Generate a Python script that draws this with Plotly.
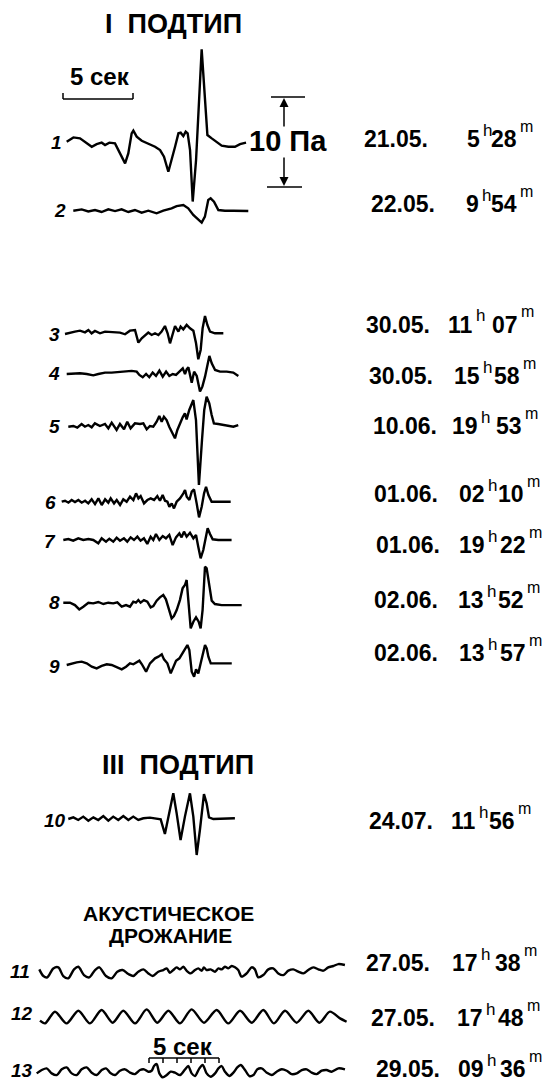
"""Microbarograph records: I and III subtypes and acoustic tremor."""

import plotly.graph_objects as go

# scale of the original sheet: 5 s = 70 px, 10 Pa = 88 px
PX_PER_SEC = 14.0
PX_PER_PA = 8.8

# ---- records: time (s) and pressure (Pa) ----
t1 = [0, 0.48, 0.95, 1.43, 1.79, 2.14, 2.5, 2.74, 3.05, 3.45, 3.76, 4.17, 4.4, 4.64, 4.76, 5.0, 5.36,
      5.83, 6.31, 6.67, 6.95, 7.26, 7.5, 7.74, 7.98, 8.14, 8.33, 8.5, 8.64, 8.81, 9.0, 9.24, 9.64,
      9.83, 10.05, 10.36, 10.71, 11.07, 11.55, 12.02, 12.38, 12.81]
p1 = [0, 0.49, 0.38, -0.19, -0.57, -0.27, -0.11, -0.38, -0.11, -0.19, -1.14, -2.46, -1.33, 0.95,
      1.25, 0.57, 0.11, -0.19, -0.57, -0.95, -1.7, -3.41, -2.08, -0.57, 0.95, 1.02, 0.64, 1.14, 0.95,
      -0.95, -6.8, -2.08, 10.5, 6.25, 0.76, 0.38, 0, -0.45, -0.57, -0.57, -0.27, -0.11]

t2 = [0, 0.6, 1.07, 1.55, 2.02, 2.5, 2.98, 3.45, 3.93, 4.4, 4.88, 5.36, 5.95, 6.43, 7.02, 7.38, 7.86,
      8.21, 8.57, 8.93, 9.17, 9.4, 9.64, 9.81, 10.05, 10.36, 10.83, 11.43, 12.02, 12.5]
p2 = [0, 0.15, -0.08, 0.08, -0.15, 0.15, -0.04, 0.15, -0.15, 0.08, -0.23, 0, -0.3, 0, 0.27, 0.53,
      0.64, 0.27, -0.49, -1.06, -1.36, -0.68, 1.21, 1.4, 1.02, 0.08, 0, 0, -0.04, -0.04]

t3 = [0, 0.36, 0.71, 1.07, 1.43, 1.67, 1.9, 2.14, 2.5, 2.86, 3.21, 3.57, 3.93, 4.29, 4.64, 5.0, 5.24,
      5.48, 5.71, 5.95, 6.19, 6.43, 6.67, 6.9, 7.14, 7.33, 7.5, 7.69, 7.86, 8.1, 8.26, 8.45, 8.69,
      8.93, 9.17, 9.36, 9.52, 9.69, 9.83, 10.0, 10.17, 10.36, 10.71, 11.31]
p3 = [-0.08, 0.08, 0.19, 0.3, 0.11, 0.38, 0, 0.27, 0, 0.19, 0.15, 0.19, 0.08, -0.11, 0.3, 0.38,
      -1.06, -0.57, -0.3, 0.08, -0.19, 0, -0.19, 0.19, 0.83, 0, -1.14, 0, 0.83, 0.19, 0.76, 0.45,
      0.95, 0.57, 0.3, -1.14, -2.95, -1.89, 0.57, 1.97, 0.95, 0.19, 0, 0]

t4 = [0, 0.48, 0.95, 1.43, 1.9, 2.26, 2.74, 3.21, 3.69, 4.17, 4.64, 5.0, 5.19, 5.43, 5.67, 5.9, 6.14,
      6.38, 6.62, 6.86, 7.1, 7.33, 7.57, 7.81, 8.05, 8.29, 8.45, 8.57, 8.69, 8.93, 9.1, 9.29, 9.52,
      9.69, 9.88, 10.05, 10.19, 10.36, 10.6, 10.95, 11.43, 11.9, 12.26]
p4 = [-0.08, 0, 0, -0.08, -0.23, -0.08, 0.08, 0.08, 0.15, 0.19, 0.27, 0.19, -0.19, -0.45, -0.08,
      -0.45, 0.08, -0.3, 0.3, -0.38, 0.19, -0.3, -0.08, -0.19, 0.19, 0.57, -0.08, 0.45, 0.68, -1.06,
      0.19, -0.3, -2.08, -1.52, -0.38, 0.95, 1.97, 1.14, 0.38, 0.19, 0.19, 0.08, -0.3]

t5 = [0, 0.36, 0.64, 0.95, 1.19, 1.43, 1.67, 1.9, 2.26, 2.62, 2.86, 3.1, 3.45, 3.69, 3.98, 4.21,
      4.45, 4.76, 5.12, 5.36, 5.6, 5.83, 6.07, 6.31, 6.5, 6.67, 6.83, 7.02, 7.21, 7.45, 7.62, 7.79,
      7.98, 8.17, 8.33, 8.45, 8.64, 8.93, 9.12, 9.33, 9.55, 9.71, 9.88, 10.07, 10.24, 10.4, 10.71,
      11.07, 11.43, 11.79, 12.14]
p5 = [-0.08, 0, -0.19, 0.23, -0.08, 0.11, -0.15, 0.3, 0, 0.23, -0.27, 0.38, -0.45, 0.23, -0.38,
      0.49, -0.27, 0.3, 0.23, 0.3, -0.38, 0, -0.08, 0.49, 1.14, 0.49, 1.06, 0.68, -0.08, -0.83, -1.4,
      -0.45, 0.3, 0.98, 1.44, 0.76, 1.82, 2.95, 0.68, -6.7, -1.59, 1.82, 3.33, 2.58, 1.25, 0.3,
      0.23, 0.11, 0, -0.08, 0.11]

t6 = [0, 0.24, 0.48, 0.71, 0.95, 1.19, 1.43, 1.67, 1.9, 2.14, 2.38, 2.62, 2.86, 3.1, 3.33, 3.5,
      3.74, 3.93, 4.17, 4.4, 4.64, 4.88, 5.12, 5.31, 5.48, 5.64, 5.88, 6.12, 6.36, 6.6, 6.83, 7.02,
      7.21, 7.38, 7.55, 7.69, 7.86, 8.02, 8.21, 8.45, 8.69, 8.81, 8.93, 9.12, 9.29, 9.45, 9.64, 9.81,
      10.0, 10.17, 10.31, 10.48, 10.71, 11.19, 11.67, 12.07]
p6 = [0, 0.11, -0.11, 0.19, -0.04, 0.19, -0.11, 0.11, -0.19, 0.27, -0.27, 0.38, -0.38, 0.27, -0.11,
      0.38, -0.19, 0.19, -0.38, 0.27, 0, 0.57, 0.19, 0.95, 0.38, 0.64, -0.19, 0.19, 0.38, 0.19, 0.64,
      0.11, 0.76, 0.11, 0, -0.57, -0.19, -0.76, 0, 0.38, 0.95, 1.33, 0.57, 0.19, 1.14, 1.4, -0.19,
      -1.78, -0.57, 0.95, 1.7, 0.76, 0, 0, 0, 0]

t7 = [0, 0.36, 0.71, 1.07, 1.43, 1.79, 2.14, 2.5, 2.74, 3.05, 3.29, 3.57, 3.81, 4.05, 4.33, 4.57,
      4.81, 5.05, 5.29, 5.52, 5.76, 6.0, 6.24, 6.43, 6.62, 6.86, 7.1, 7.33, 7.57, 7.81, 8.05, 8.29,
      8.45, 8.62, 8.81, 9.05, 9.29, 9.48, 9.64, 9.81, 10.0, 10.14, 10.31, 10.48, 10.67, 11.07,
      11.55, 12.02]
p7 = [0, 0.11, -0.08, 0.19, 0, 0.11, 0, -0.38, 0.19, -0.19, 0.15, -0.19, 0.27, -0.08, 0.19, -0.19,
      0.3, 0, 0.38, -0.08, 0.19, -0.45, 0.38, 0, 0.68, 0, 0.45, 0.19, 0.57, -0.57, 0.3, 0.76, 0.3,
      0.95, 0.38, 0.83, 0.19, 0.57, -0.76, -2.08, -1.14, 0, 1.33, 0.68, 0.08, 0, 0, 0]

t8 = [0, 0.48, 0.83, 1.14, 1.43, 1.79, 2.14, 2.5, 2.86, 3.21, 3.57, 3.86, 4.17, 4.48, 4.76, 5.0,
      5.19, 5.36, 5.52, 5.76, 6.0, 6.24, 6.43, 6.67, 6.9, 7.14, 7.33, 7.52, 7.74, 7.9, 8.1, 8.33,
      8.52, 8.69, 8.81, 8.93, 9.1, 9.29, 9.48, 9.67, 9.81, 9.95, 10.12, 10.24, 10.43, 10.6, 10.83,
      11.31, 11.9, 12.74]
p8 = [0, 0, -0.27, -0.76, -0.45, 0, -0.08, 0.08, -0.15, 0, -0.08, 0.04, -0.45, -0.27, -0.45, 0.11,
      0, 0.3, 0, 0.3, 0.11, -0.53, -0.38, 0.23, 0.61, 0.87, 0.38, -0.64, -1.78, -1.52, -0.83, 0.3,
      1.63, 2.01, 2.58, 0.3, -2.92, -2.16, -1.67, -2.16, -2.92, -0.83, 4.09, 3.9, 1.82, 0.23, -0.15,
      -0.27, -0.27, -0.27]

t9 = [0, 0.36, 0.71, 1.07, 1.43, 1.79, 2.14, 2.5, 2.86, 3.21, 3.57, 3.93, 4.24, 4.52, 4.76, 5.0,
      5.19, 5.36, 5.67, 5.95, 6.31, 6.55, 6.79, 6.95, 7.19, 7.43, 7.57, 7.81, 8.05, 8.29, 8.48, 8.62,
      8.76, 8.93, 9.1, 9.24, 9.4, 9.57, 9.76, 9.88, 10.0, 10.12, 10.29, 10.71, 11.31, 11.79]
p9 = [0, 0.19, 0.3, 0.38, 0.19, -0.19, -0.38, -0.11, 0.08, 0, -0.27, -0.49, -0.19, 0.19, 0.08, 0.27,
      0.49, 0.11, -0.76, 0.19, 0.76, 0.95, 1.21, 0.64, 0.19, -0.95, -0.38, 0.49, 0.76, 1.33, 1.89,
      2.27, 1.7, -0.76, -1.33, -0.49, -0.95, 0.19, 1.52, 2.27, 1.89, 0.95, 0.19, 0.19, 0.11, 0.19]

t10 = [0, 0.36, 0.71, 1.07, 1.43, 1.79, 2.14, 2.5, 2.86, 3.21, 3.57, 3.93, 4.29, 4.64, 5.0, 5.36,
       5.83, 6.31, 6.6, 6.9, 7.17, 7.5, 7.74, 8.02, 8.33, 8.69, 8.93, 9.17, 9.4, 9.69, 9.88, 10.05,
       10.36, 11.07, 11.9]
p10 = [0, 0.19, -0.11, 0.27, -0.19, 0.19, -0.11, 0.34, -0.19, 0.27, -0.11, 0.34, -0.11, 0.27, -0.11,
       0.08, 0.15, 0.08, -0.04, -1.7, 0.45, 2.92, 0.64, -2.39, 0.27, 2.92, 0.27, -4.09, -1.25, 2.84,
       1.78, 0.19, 0, 0, 0.08]

t11 = [0, 0.29, 0.57, 1.0, 1.36, 1.71, 2.07, 2.48, 2.79, 3.19, 3.57, 3.98, 4.29, 4.76, 5.17, 5.57,
       5.95, 6.36, 6.71, 7.07, 7.43, 7.79, 8.1, 8.5, 8.86, 9.1, 9.33, 9.57, 9.81, 10.05, 10.29, 10.52,
       10.81, 11.12, 11.36, 11.6, 11.76, 11.95, 12.24, 12.55, 12.79, 13.02, 13.26, 13.5, 13.74,
       13.98, 14.21, 14.45, 14.81, 15.17, 15.4, 15.64, 16.0, 16.36, 16.71, 17.07, 17.43, 17.79,
       18.14, 18.5, 18.86, 19.21, 19.57, 19.93, 20.29, 20.64, 21.0, 21.36, 21.83]
p11 = [0.38, -0.38, -0.53, 0.49, 0.61, -0.38, -0.64, 0.38, 0.68, -0.27, -0.53, 0.3, 0.61, -0.38,
       -0.64, 0.11, 0.3, -0.15, -0.38, 0.11, 0.38, -0.08, -0.38, 0.11, 0.3, 0.49, 0, 0.3, 0.61, 0.38,
       0.68, 0.23, -0.08, 0.3, 0.49, 0.23, 0.61, 0.3, 0.38, 0.11, 0.49, 0.38, 0.68, 0.49, 0.76, 0.61,
       0.3, -0.45, -0.08, 0.61, 0.38, -0.53, -0.27, 0.38, 0.49, -0.08, -0.27, 0.23, 0.38, 0.11,
       -0.08, 0.3, 0.61, 0.38, 0.23, 0.61, 0.76, 0.98, 0.87]

t12 = [0, 0.36, 1.07, 1.9, 2.74, 3.57, 4.4, 5.19, 5.95, 6.79, 7.62, 8.38, 9.17, 10.0, 10.83, 11.71,
       12.62, 13.45, 14.29, 15.12, 15.95, 16.71, 17.5, 18.33, 19.17, 19.95, 20.71, 21.43, 21.9]
p12 = [-0.45, -0.76, 0.57, -0.76, 0.68, -0.76, 0.76, -0.68, 0.68, -0.76, 0.83, -0.68, 0.68, -0.76,
       0.83, -0.68, 0.76, -0.76, 0.68, -0.68, 0.76, -0.76, 0.68, -0.68, 0.68, -0.68, 0.57, -0.19,
       -0.57]

t13 = [0, 0.36, 0.71, 1.07, 1.43, 1.79, 2.14, 2.5, 2.86, 3.21, 3.57, 3.93, 4.29, 4.64, 4.95, 5.29,
       5.6, 5.95, 6.31, 6.67, 7.02, 7.38, 7.67, 7.98, 8.21, 8.38, 8.57, 8.76, 9.0, 9.29, 9.57, 9.88,
       10.24, 10.6, 10.83, 11.07, 11.31, 11.62, 11.86, 12.14, 12.43, 12.74, 12.98, 13.21, 13.45,
       13.76, 14.05, 14.33, 14.57, 14.88, 15.19, 15.48, 15.76, 16.07, 16.43, 16.79, 17.14, 17.5,
       17.86, 18.21, 18.57, 18.93, 19.29, 19.64, 20.0, 20.36, 20.71, 21.07, 21.55, 22.02]
p13 = [-0.19, 0.19, 0.38, -0.19, -0.38, 0.27, 0.49, -0.19, -0.38, 0.27, 0.49, -0.11, -0.38, 0.19,
       0.38, -0.19, -0.38, 0.11, 0.27, -0.11, -0.27, 0.19, 0.27, 0, 0.11, 0.64, 0.87, -0.19, -0.64,
       -0.38, 0, -0.11, -0.38, 0.27, 0.64, -0.19, -0.49, 0.38, 0.76, -0.19, -0.57, -0.19, 0.38, 0.64,
       0, -0.49, -0.11, 0.49, 0.76, 0.19, -0.49, -0.38, 0.27, 0.38, -0.11, -0.38, 0, 0.27, 0.11,
       -0.27, -0.19, 0.19, 0.27, -0.11, -0.27, 0.11, 0.19, 0, 0.38, 0.27]

records = [(t1, p1), (t2, p2), (t3, p3), (t4, p4), (t5, p5), (t6, p6), (t7, p7),
           (t8, p8), (t9, p9), (t10, p10), (t11, p11), (t12, p12), (t13, p13)]
numbers = ["1", "2", "3", "4", "5", "6", "7", "8", "9", "10", "11", "12", "13"]
dates = ["21.05.", "22.05.", "30.05.", "30.05.", "10.06.", "01.06.", "01.06.",
         "02.06.", "02.06.", "24.07.", "27.05.", "27.05.", "29.05."]
hours = ["5", "9", "11", "15", "19", "02", "19", "13", "13", "11", "17", "17", "09"]
minutes = ["28", "54", "07", "58", "53", "10", "22", "52", "57", "56", "38", "48", "36"]

# ---- placement on the sheet (pixels) ----
x0 = [66.7, 73.3, 65, 66.7, 68.3, 61.7, 63.3, 63.3, 66.7, 68.3, 39.3, 40, 36.7]
y0 = [141.7, 210.7, 333.3, 373.3, 426, 501.7, 540, 602.7, 665, 819, 972.7, 1016.7, 1071.7]
smooth = [False] * 10 + [True] * 3
num_right = [63, 67, 61, 61, 61, 57, 57, 61, 61, 67, 31, 34, 34]
num_y = [142, 210, 334, 373, 426, 502, 541, 602, 666, 820, 971, 1013, 1070]
row_y = [139, 204, 324.5, 376, 426, 494, 545, 600, 653, 821, 963, 1018, 1069]
date_left = [363, 370, 365, 368, 372, 373, 375, 373, 373, 368, 365, 370, 375]
h_x = [481, 480, 474, 481, 479, 486, 486, 485, 486, 477, 479, 484, 485]
m_x = [518, 518, 519, 521, 523, 525, 527, 525, 527, 516, 522, 525, 527]

FONT = "Liberation Sans, Arial, sans-serif"

fig = go.Figure()
for (t, p), xs, ys, sm in zip(records, x0, y0, smooth):
    fig.add_trace(go.Scatter(
        x=[xs + v * PX_PER_SEC for v in t],
        y=[ys - v * PX_PER_PA for v in p],
        mode="lines",
        line=dict(color="black", width=2.4, shape="spline" if sm else "linear",
                  smoothing=0.8 if sm else None),
        hoverinfo="skip",
        showlegend=False,
    ))

ann = []


def txt(x, y, s, size, bold=True, xanchor="center", italic=False):
    if bold:
        s = "<b>" + s + "</b>"
    if italic:
        s = "<i>" + s + "</i>"
    ann.append(dict(x=x, y=y, xref="x", yref="y", text=s, showarrow=False,
                    xanchor=xanchor, yanchor="middle", borderpad=0,
                    font=dict(family=FONT, size=size, color="black")))


# titles
txt(173, 24, "I\u00a0\u00a0ПОДТИП", 27)
txt(178, 765, "III\u00a0\u00a0ПОДТИП", 27)
txt(168, 913, "АКУСТИЧЕСКОЕ", 21)
txt(170, 935, "ДРОЖАНИЕ", 21)

# scale labels
txt(100, 76, "5 сек", 24)
txt(183, 1046, "5 сек", 24)
txt(288, 141, "10 Па", 29)

# record numbers
for n, xr, yy in zip(numbers, num_right, num_y):
    txt(xr, yy, n, 19, xanchor="right", italic=True)

# dates and times
for i in range(len(dates)):
    y = row_y[i]
    txt(date_left[i], y, dates[i], 23, xanchor="left")
    txt(h_x[i], y, hours[i], 23, xanchor="right")
    txt(h_x[i] + 1, y - 9, "h", 17, bold=False, xanchor="left")
    txt(m_x[i], y, minutes[i], 23, xanchor="right")
    txt(m_x[i] + 1, y - 13, "m", 16, bold=False, xanchor="left")

# 10 Pa arrows
for tip, tail in [(98, 128), (186, 156)]:
    ann.append(dict(x=284, y=tip, ax=284, ay=tail, xref="x", yref="y", axref="x", ayref="y",
                    text="", showarrow=True, arrowhead=2, arrowsize=1.2, arrowwidth=1.5,
                    arrowcolor="black"))

shapes = []


def seg(xa, ya, xb, yb, w=1.5):
    shapes.append(dict(type="line", xref="x", yref="y", x0=xa, y0=ya, x1=xb, y1=yb,
                       line=dict(color="black", width=w)))


seg(271, 97, 305, 97)
seg(267, 187, 302, 187)
# top 5 s bracket
seg(63, 99, 133, 99)
seg(63, 93, 63, 99)
seg(133, 93, 133, 99)
# bottom 5 s bar with 1 s ticks
seg(149, 1058, 219, 1058)
for k in range(6):
    seg(149 + k * PX_PER_SEC, 1058, 149 + k * PX_PER_SEC, 1063)

fig.update_layout(
    width=542, height=1084,
    margin=dict(l=0, r=0, t=0, b=0),
    paper_bgcolor="white", plot_bgcolor="white",
    xaxis=dict(range=[0, 542], visible=False, fixedrange=True),
    yaxis=dict(range=[1084, 0], visible=False, fixedrange=True),
    annotations=ann, shapes=shapes,
)

# page body margin would shift the figure by 8 px
fig.write_html("out.html", config={"displayModeBar": False},
               post_script="document.body.style.margin='0';document.body.style.overflow='hidden';")
